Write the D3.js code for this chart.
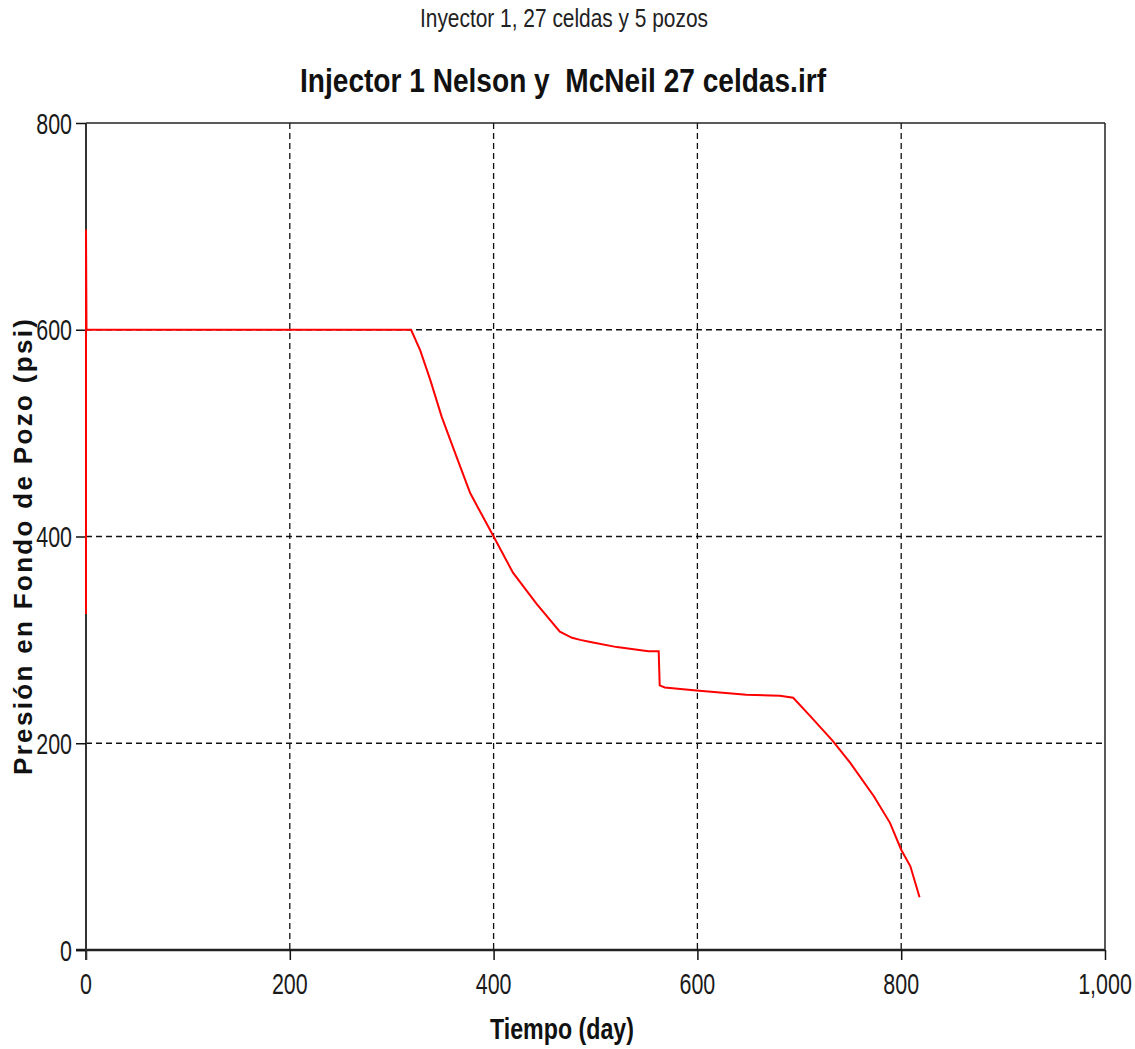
<!DOCTYPE html>
<html>
<head>
<meta charset="utf-8">
<script src="https://cdn.jsdelivr.net/npm/d3@7"></script>
<style>
  html, body { margin: 0; padding: 0; background: #fff; }
  svg { display: block; }
  text { font-family: "Liberation Sans", Arial, sans-serif; white-space: pre; }
</style>
</head>
<body>
<svg id="chart" width="1135" height="1049"></svg>
<script>
// ---- data ----
const days = [0, 0, 0.5, 319, 328, 338, 349, 361, 377, 389, 400, 419, 442, 465, 477, 485, 495, 521, 552, 562, 563, 568, 599, 648, 681, 694, 711, 733, 750, 773, 789, 800, 809, 818];
const psi  = [325, 697, 600, 600, 580, 551, 516, 484, 442, 420, 400, 365, 335, 308, 302, 300, 298, 293, 289, 289, 256, 254, 251, 247, 246, 244, 226, 202, 181, 149, 123, 97, 81, 51];
const xTicks = [0, 200, 400, 600, 800, 1000];
const yTicks = [0, 200, 400, 600, 800];
const subtitleText = "Inyector 1, 27 celdas y 5 pozos";
const titleText = "Injector 1 Nelson y  McNeil 27 celdas.irf";
const xLabelText = "Tiempo (day)";
const yLabelText = "Presión en Fondo de Pozo (psi)";

// ---- layout ----
const svg = d3.select("#chart");
const x = d3.scaleLinear().domain([0, 1000]).range([86, 1105]);
const y = d3.scaleLinear().domain([0, 800]).range([950, 123]);
const fmt = d3.format(",");

// grid
const grid = svg.append("g")
  .attr("stroke", "#111").attr("stroke-width", 1.3).attr("stroke-dasharray", "6,4");
grid.selectAll("line.v").data(xTicks.filter(d => d > 0 && d < 1000)).join("line")
  .attr("x1", d => x(d)).attr("x2", d => x(d))
  .attr("y1", y(800)).attr("y2", y(0));
grid.selectAll("line.h").data(yTicks.filter(d => d > 0 && d < 800)).join("line")
  .attr("x1", x(0)).attr("x2", x(1000))
  .attr("y1", d => y(d)).attr("y2", d => y(d));

// frame (top & right)
svg.append("line").attr("x1", x(0)).attr("x2", x(1000)).attr("y1", y(800)).attr("y2", y(800))
  .attr("stroke", "#222").attr("stroke-width", 1.5);
svg.append("line").attr("x1", x(1000)).attr("x2", x(1000)).attr("y1", y(800)).attr("y2", y(0))
  .attr("stroke", "#222").attr("stroke-width", 1.5);

// axes via d3
const xAxis = svg.append("g").attr("transform", `translate(0,${y(0)})`)
  .call(d3.axisBottom(x).tickValues(xTicks).tickSize(10).tickSizeOuter(0).tickFormat(""));
xAxis.select(".domain").attr("stroke", "#222").attr("stroke-width", 2.6)
  .attr("d", `M${x(0) - 10},0H${x(1000)}`);
xAxis.selectAll(".tick line").attr("stroke", "#111").attr("stroke-width", 1.5);

const yAxis = svg.append("g").attr("transform", `translate(${x(0)},0)`)
  .call(d3.axisLeft(y).tickValues(yTicks).tickSize(10).tickSizeOuter(0).tickFormat(""));
yAxis.select(".domain").attr("stroke", "#333").attr("stroke-width", 2)
  .attr("d", `M0,${y(800)}V${y(0) + 10}`);
yAxis.selectAll(".tick line").attr("stroke", "#111").attr("stroke-width", 1.5);

// tick labels (condensed)
function cText(g, tx, ty, str, size, anchor, sx, weight) {
  return g.append("text")
    .attr("transform", `translate(${tx},${ty}) scale(${sx},1)`)
    .attr("text-anchor", anchor)
    .attr("font-size", size)
    .attr("font-weight", weight || "normal")
    .attr("fill", "#1a1a1a")
    .text(str);
}
const labels = svg.append("g");
xTicks.forEach(d => cText(labels, x(d), 994, fmt(d), 29, "middle", 0.74));
yTicks.forEach(d => cText(labels, 72, y(d) + 10.5, fmt(d), 29, "end", 0.74));

// line
const pts = days.map((d, i) => [d, psi[i]]);
svg.append("path").datum(pts)
  .attr("fill", "none").attr("stroke", "#ff0000").attr("stroke-width", 2)
  .attr("d", d3.line().x(d => x(d[0])).y(d => y(d[1])));

// titles
svg.append("text").attr("x", 564).attr("y", 27).attr("text-anchor", "middle")
  .attr("font-size", 25).attr("fill", "#222")
  .attr("textLength", 288).attr("lengthAdjust", "spacingAndGlyphs")
  .text(subtitleText);
svg.append("text").attr("x", 563).attr("y", 92).attr("text-anchor", "middle")
  .attr("font-size", 33).attr("font-weight", "bold").attr("fill", "#111")
  .attr("textLength", 526).attr("lengthAdjust", "spacingAndGlyphs")
  .text(titleText);
svg.append("text").attr("x", 562).attr("y", 1039).attr("text-anchor", "middle")
  .attr("font-size", 29).attr("font-weight", "bold").attr("fill", "#111")
  .attr("textLength", 144).attr("lengthAdjust", "spacingAndGlyphs")
  .text(xLabelText);
svg.append("text").attr("transform", "translate(32,547) rotate(-90)").attr("text-anchor", "middle")
  .attr("font-size", 26).attr("font-weight", "bold").attr("fill", "#111")
  .attr("textLength", 456).attr("lengthAdjust", "spacing")
  .text(yLabelText);
</script>
</body>
</html>
